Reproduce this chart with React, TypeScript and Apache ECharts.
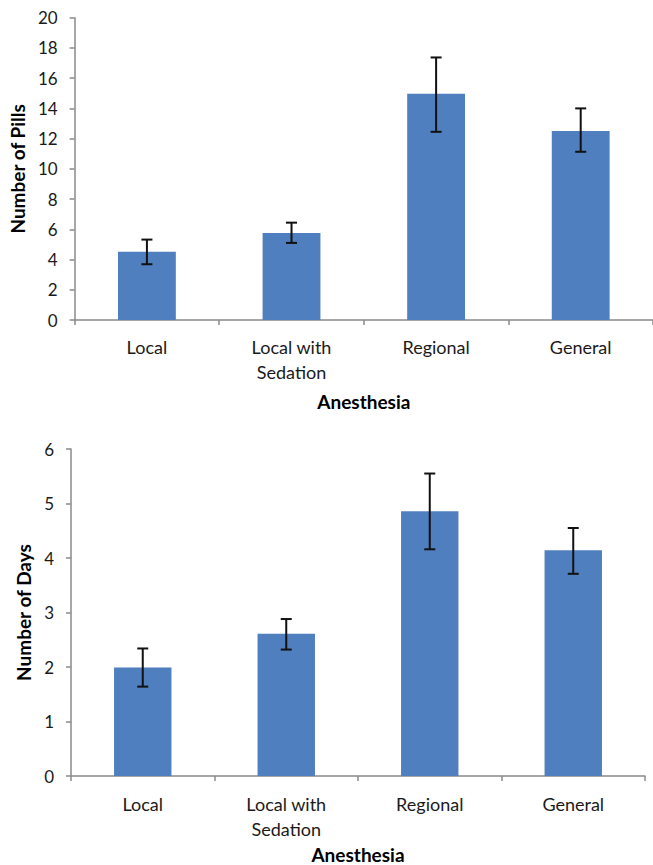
import React, { useEffect, useRef } from "react";
import * as echarts from "echarts";

const categories = ["Local", "Local with\nSedation", "Regional", "General"];
const pillsMean = [4.52, 5.76, 14.97, 12.5];
const pillsLow = [3.69, 5.1, 12.45, 11.13];
const pillsHigh = [5.32, 6.44, 17.37, 14.0];
const daysMean = [1.99, 2.61, 4.86, 4.14];
const daysLow = [1.64, 2.32, 4.16, 3.71];
const daysHigh = [2.34, 2.88, 5.55, 4.55];

const FONT = "Lato";
const AXIS_COLOR = "#8a8a8a";
const TEXT_COLOR = "#1a1a1a";
const BAR_COLOR = "#4f7fbe";

const errorRender = (params: any, api: any) => {
  const x = api.value(0);
  const lo = api.coord([x, api.value(1)]);
  const hi = api.coord([x, api.value(2)]);
  const half = 5.5;
  const style = { stroke: "#111", lineWidth: 2 };
  return {
    type: "group",
    children: [
      { type: "line", shape: { x1: hi[0], y1: hi[1], x2: lo[0], y2: lo[1] }, style },
      { type: "line", shape: { x1: hi[0] - half, y1: hi[1], x2: hi[0] + half, y2: hi[1] }, style },
      { type: "line", shape: { x1: lo[0] - half, y1: lo[1], x2: lo[0] + half, y2: lo[1] }, style },
    ],
  };
};

export default function App() {
  const ref = useRef<HTMLDivElement>(null);
  useEffect(() => {
    document.body.style.margin = "0";
    const chart = echarts.init(ref.current!, undefined, { renderer: "svg" });
    const xAxisBase = (gridIndex: number, margin: number, nameGap: number) => ({
      type: "category",
      gridIndex,
      data: categories,
      boundaryGap: true,
      axisLine: { lineStyle: { color: AXIS_COLOR, width: 1.5 } },
      axisTick: { show: true, length: 5, lineStyle: { color: AXIS_COLOR, width: 1.5 } },
      axisLabel: { color: TEXT_COLOR, fontFamily: FONT, fontSize: 18, lineHeight: 25, margin },
      name: "Anesthesia",
      nameLocation: "middle",
      nameGap,
      nameTextStyle: { color: "#000", fontFamily: FONT, fontSize: 19, fontWeight: "bold" },
    });
    const yAxisBase = (gridIndex: number, max: number, interval: number, name: string, nameGap: number) => ({
      type: "value",
      gridIndex,
      min: 0,
      max,
      interval,
      splitLine: { show: false },
      axisLine: { show: true, lineStyle: { color: AXIS_COLOR, width: 1.5 } },
      axisTick: { show: true, length: 5, lineStyle: { color: AXIS_COLOR, width: 1.5 } },
      axisLabel: { color: TEXT_COLOR, fontFamily: FONT, fontSize: 17, margin: 17 },
      name,
      nameLocation: "middle",
      nameGap,
      nameTextStyle: { color: "#000", fontFamily: FONT, fontSize: 19, fontWeight: "bold" },
    });
    chart.setOption({
      animation: false,
      grid: [
        { left: 72, top: 17.7, width: 585, height: 302.3 },
        { left: 71, top: 449, width: 574, height: 327.7 },
      ],
      xAxis: [xAxisBase(0, 14, 72), xAxisBase(1, 15, 69)],
      yAxis: [
        yAxisBase(0, 20, 2, "Number of Pills", 44),
        yAxisBase(1, 6, 1, "Number of Days", 37),
      ],
      series: [
        {
          type: "bar",
          xAxisIndex: 0,
          yAxisIndex: 0,
          data: pillsMean,
          barWidth: "40%",
          itemStyle: { color: BAR_COLOR },
        },
        {
          type: "custom",
          xAxisIndex: 0,
          yAxisIndex: 0,
          data: pillsMean.map((_, i) => [i, pillsLow[i], pillsHigh[i]]),
          renderItem: errorRender,
          z: 5,
        },
        {
          type: "bar",
          xAxisIndex: 1,
          yAxisIndex: 1,
          data: daysMean,
          barWidth: "40%",
          itemStyle: { color: BAR_COLOR },
        },
        {
          type: "custom",
          xAxisIndex: 1,
          yAxisIndex: 1,
          data: daysMean.map((_, i) => [i, daysLow[i], daysHigh[i]]),
          renderItem: errorRender,
          z: 5,
        },
      ],
    });
    return () => chart.dispose();
  }, []);
  return <div ref={ref} style={{ width: 653, height: 865 }} />;
}
